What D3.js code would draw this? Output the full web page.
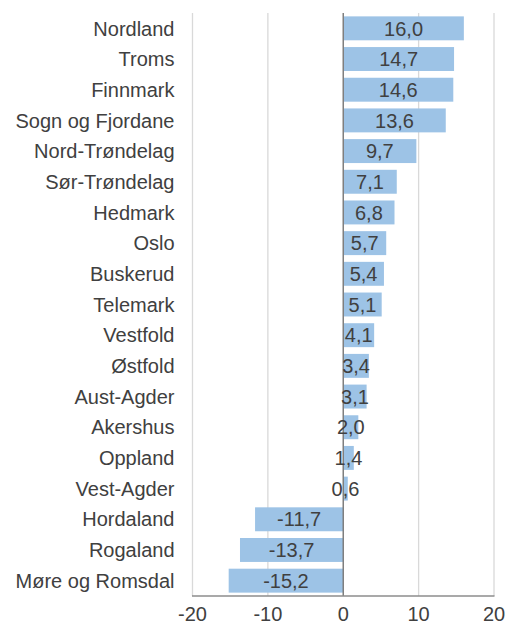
<!DOCTYPE html>
<html>
<head>
<meta charset="utf-8">
<script src="https://cdn.jsdelivr.net/npm/d3@7"></script>
<style>
  html, body { margin: 0; padding: 0; background: #fff; }
  svg { display: block; }
</style>
</head>
<body>
<svg id="chart" width="507" height="627"></svg>
<script>
// Change per county (percent), ordered top to bottom
const counties = ["Nordland", "Troms", "Finnmark", "Sogn og Fjordane", "Nord-Trøndelag",
  "Sør-Trøndelag", "Hedmark", "Oslo", "Buskerud", "Telemark", "Vestfold", "Østfold",
  "Aust-Agder", "Akershus", "Oppland", "Vest-Agder", "Hordaland", "Rogaland", "Møre og Romsdal"];
const values = [16.0, 14.7, 14.6, 13.6, 9.7, 7.1, 6.8, 5.7, 5.4, 5.1, 4.1, 3.4, 3.1, 2.0, 1.4, 0.6, -11.7, -13.7, -15.2];
const xTicks = [-20, -10, 0, 10, 20];

const svg = d3.select("#chart");
const margin = { top: 13, right: 13, bottom: 31, left: 192.5 };
const W = 507, H = 627;
const font = "'Liberation Sans', Arial, sans-serif";
const fontSize = 20;
const textColor = "#404040";

const x = d3.scaleLinear().domain([-20, 20]).range([margin.left, W - margin.right]);
const y = d3.scaleBand().domain(counties).range([margin.top, H - margin.bottom]).paddingInner(0.22).paddingOuter(0.11);

// vertical gridlines
svg.append("g").selectAll("line").data(xTicks.filter(t => t !== 0)).join("line")
  .attr("x1", d => x(d)).attr("x2", d => x(d))
  .attr("y1", margin.top).attr("y2", H - margin.bottom)
  .attr("stroke", "#d9d9d9").attr("stroke-width", 1.3);

// bars
svg.append("g").selectAll("rect").data(values).join("rect")
  .attr("x", d => x(Math.min(0, d)))
  .attr("width", d => Math.abs(x(d) - x(0)))
  .attr("y", (d, i) => y(counties[i]))
  .attr("height", y.bandwidth())
  .attr("fill", "#9dc3e6");

// zero line and bottom axis line
svg.append("line")
  .attr("x1", x(0)).attr("x2", x(0))
  .attr("y1", margin.top).attr("y2", H - margin.bottom)
  .attr("stroke", "#7f7f7f").attr("stroke-width", 1.5);
svg.append("line")
  .attr("x1", x(-20) - 0.5).attr("x2", x(20) + 0.5)
  .attr("y1", H - margin.bottom).attr("y2", H - margin.bottom)
  .attr("stroke", "#8c8c8c").attr("stroke-width", 1.3);

// value labels centered on bars
const fmt = v => v.toFixed(1).replace(".", ",");
svg.append("g").selectAll("text").data(values).join("text")
  .attr("x", d => (x(0) + x(d)) / 2)
  .attr("y", (d, i) => y(counties[i]) + y.bandwidth() / 2)
  .attr("dy", "0.36em")
  .attr("text-anchor", "middle")
  .attr("font-family", font).attr("font-size", fontSize).attr("fill", textColor)
  .text(fmt);

// category labels
svg.append("g").selectAll("text").data(counties).join("text")
  .attr("x", 174.5)
  .attr("y", d => y(d) + y.bandwidth() / 2)
  .attr("dy", "0.36em")
  .attr("text-anchor", "end")
  .attr("font-family", font).attr("font-size", fontSize).attr("fill", textColor)
  .text(d => d);

// x tick labels
svg.append("g").selectAll("text").data(xTicks).join("text")
  .attr("x", d => x(d))
  .attr("y", 621)
  .attr("text-anchor", "middle")
  .attr("font-family", font).attr("font-size", fontSize).attr("fill", textColor)
  .text(d => d);
</script>
</body>
</html>
